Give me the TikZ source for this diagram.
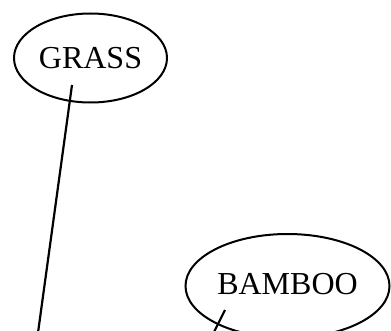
\documentclass[tikz,border=0pt]{standalone}
\usepackage{fontspec}
\setmainfont{Liberation Serif}
\usetikzlibrary{shapes.geometric}
\begin{document}
\begin{tikzpicture}[x=1pt,y=-1pt,
  oval/.style={draw,ellipse,line width=2pt,inner sep=0pt,font=\fontsize{32}{36}\selectfont},
  link/.style={draw,line width=2.2pt}]
\useasboundingbox (0,0) rectangle (391,331);
\begin{scope}
\clip (0,0) rectangle (391,331);
\node[oval,minimum width=153pt,minimum height=89pt] (grass) at (90.5,58) {GRASS};
\node[oval,minimum width=204pt,minimum height=104pt] (bamboo) at (287.5,286) {\raisebox{4pt}{BAMBOO}};
\coordinate (g1) at (72,85);
\coordinate (g2) at (37,340);
\coordinate (b1) at (225,310);
\coordinate (b2) at (211,338);
\draw[link] (g1) -- (g2);
\draw[link] (b1) -- (b2);
\end{scope}
\end{tikzpicture}
\end{document}
